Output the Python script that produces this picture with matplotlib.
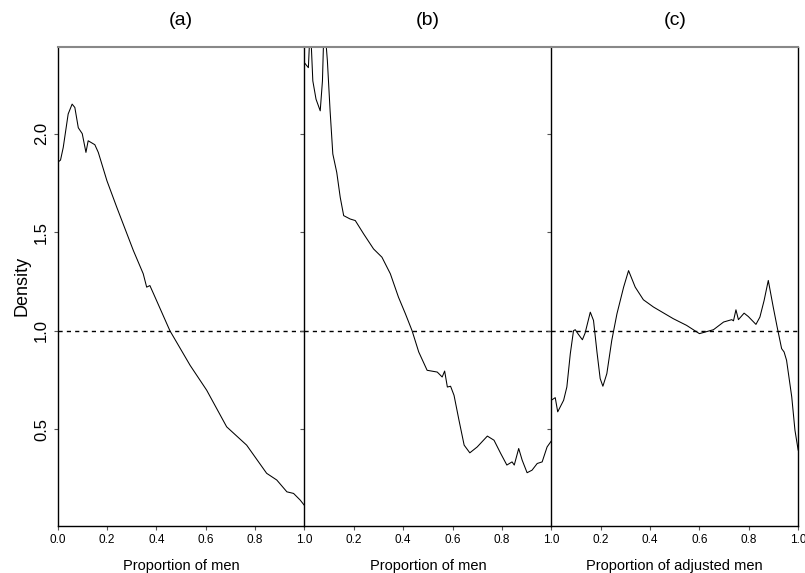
import numpy as np
import matplotlib
matplotlib.use("Agg")
import matplotlib.pyplot as plt

plt.rcParams['font.family'] = ['Liberation Sans', 'DejaVu Sans']

# panel (a): proportion of men
a_x = [0.0, 0.012, 0.023, 0.043, 0.059, 0.07, 0.084, 0.10, 0.115, 0.124, 0.151,
       0.165, 0.2, 0.24, 0.307, 0.347, 0.361, 0.374, 0.389, 0.455, 0.537, 0.604,
       0.685, 0.766, 0.847, 0.888, 0.929, 0.956, 0.983, 1.0]
a_y = [1.854, 1.866, 1.93, 2.10, 2.15, 2.133, 2.03, 2.0, 1.905, 1.964, 1.944,
       1.905, 1.761, 1.626, 1.407, 1.289, 1.221, 1.229, 1.187, 1.0, 0.824, 0.698,
       0.512, 0.419, 0.276, 0.242, 0.182, 0.174, 0.14, 0.113]

# panel (b): proportion of men
b_x = [0.0, 0.016, 0.024, 0.034, 0.047, 0.064, 0.073, 0.08, 0.093, 0.104, 0.115,
       0.131, 0.145, 0.159, 0.185, 0.206, 0.24, 0.28, 0.314, 0.348, 0.381, 0.409,
       0.436, 0.463, 0.497, 0.538, 0.558, 0.568, 0.579, 0.592, 0.606, 0.626, 0.647,
       0.67, 0.7, 0.741, 0.768, 0.795, 0.82, 0.841, 0.85, 0.868, 0.882, 0.902,
       0.922, 0.943, 0.963, 0.983, 1.0]
b_y = [2.36, 2.335, 2.56, 2.268, 2.175, 2.116, 2.268, 2.58, 2.37, 2.116, 1.897,
       1.803, 1.677, 1.584, 1.567, 1.559, 1.491, 1.415, 1.373, 1.289, 1.170, 1.086,
       1.0, 0.892, 0.799, 0.790, 0.765, 0.795, 0.714, 0.718, 0.672, 0.546, 0.419,
       0.38, 0.41, 0.465, 0.444, 0.377, 0.318, 0.334, 0.318, 0.402, 0.343, 0.279,
       0.292, 0.326, 0.334, 0.41, 0.44]

# panel (c): proportion of adjusted men
c_x = [0.0, 0.016, 0.026, 0.05, 0.063, 0.077, 0.09, 0.097, 0.11, 0.126, 0.137,
       0.158, 0.171, 0.185, 0.198, 0.209, 0.225, 0.245, 0.266, 0.293, 0.313, 0.34,
       0.373, 0.414, 0.494, 0.548, 0.6, 0.657, 0.698, 0.731, 0.738, 0.748, 0.758,
       0.781, 0.798, 0.829, 0.845, 0.862, 0.879, 0.899, 0.915, 0.933, 0.943, 0.953,
       0.974, 0.987, 1.0]
c_y = [0.647, 0.66, 0.588, 0.647, 0.714, 0.883, 1.0, 1.005, 0.981, 0.954, 0.988,
       1.094, 1.052, 0.892, 0.757, 0.718, 0.782, 0.951, 1.086, 1.221, 1.305, 1.221,
       1.157, 1.12, 1.061, 1.027, 0.985, 1.005, 1.044, 1.056, 1.05, 1.106, 1.056,
       1.089, 1.072, 1.032, 1.069, 1.153, 1.255, 1.12, 1.018, 0.909, 0.892, 0.85,
       0.664, 0.495, 0.394]

titles = ['(a)', '(b)', '(c)']
xlabels = ['Proportion of men', 'Proportion of men', 'Proportion of adjusted men']
series = [(a_x, a_y), (b_x, b_y), (c_x, c_y)]

fig, axes = plt.subplots(1, 3, figsize=(8.05, 5.73), dpi=100, sharey=True)
fig.subplots_adjust(left=0.0715, right=0.9915, top=0.918, bottom=0.0825, wspace=0)

for i, ax in enumerate(axes):
    x, y = series[i]
    ax.plot(x, y, color='black', lw=0.75)
    ax.axhline(1.0, color='black', lw=1.0, ls=(0, (3, 3)))
    ax.set_xlim(0, 1)
    ax.set_ylim(0.01, 2.44)
    ax.set_title(titles[i], fontsize=14, pad=16)
    ax.set_xlabel(xlabels[i], fontsize=10.5, labelpad=9)
    if i == 0:
        ax.set_xticks([0.0, 0.2, 0.4, 0.6, 0.8, 1.0])
    else:
        ax.set_xticks([0.2, 0.4, 0.6, 0.8, 1.0])
    ax.set_xticklabels(['%.1f' % t for t in ax.get_xticks()], fontsize=8.5)
    ax.set_yticks([0.5, 1.0, 1.5, 2.0])
    ax.tick_params(axis='both', direction='out', length=3, width=0.8, color='#555555')
    ax.tick_params(axis='x', pad=3)
    ax.tick_params(axis='y', labelsize=12, pad=3)
    for s in ['left', 'right', 'bottom']:
        ax.spines[s].set_linewidth(1.0)
    ax.spines['top'].set_color('#888888')
    ax.spines['top'].set_linewidth(1.5)
    if i < 2:
        ax.spines['right'].set_visible(False)

for lab in axes[0].get_yticklabels():
    lab.set_rotation(90)
    lab.set_va('center')
axes[0].set_ylabel('Density', fontsize=13, labelpad=3)

fig.savefig('out.png')
